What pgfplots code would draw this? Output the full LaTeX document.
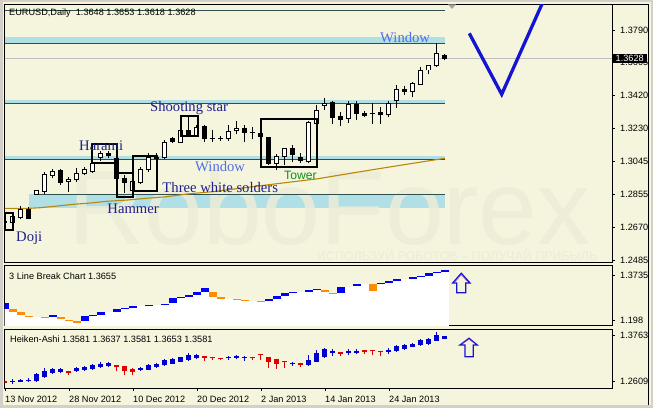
\documentclass[border=0pt]{standalone}
\usepackage{pgfplots}
\pgfplotsset{compat=1.18}
\usepackage{pgfplotstable}
\usepackage{fontspec}
\setmainfont{Liberation Sans}
\newfontfamily\tnr{Liberation Serif}
\definecolor{bg}{RGB}{245,245,222}
\definecolor{winframe}{RGB}{212,208,200}
\definecolor{band}{RGB}{176,224,230}
\definecolor{bandline}{RGB}{47,79,79}
\definecolor{maline}{RGB}{184,134,11}
\definecolor{navyt}{RGB}{30,30,140}
\definecolor{winblue}{RGB}{80,110,230}
\definecolor{towergreen}{RGB}{20,140,20}
\definecolor{vblue}{RGB}{20,20,210}
\definecolor{lbblue}{RGB}{0,0,255}
\definecolor{lborange}{RGB}{255,140,0}
\definecolor{hablue}{RGB}{0,0,205}
\definecolor{hared}{RGB}{220,0,0}
\definecolor{wm}{RGB}{236,236,215}
\definecolor{curline}{RGB}{192,192,192}

% main chart: white (bullish) and black (bearish) candles, k = bar index
\pgfplotstableread{
k o h l c
1 1.2695 1.2746 1.2684 1.2729
2 1.2727 1.2791 1.2716 1.2773
4 1.2859 1.2882 1.2857 1.2877
5 1.2873 1.2986 1.2859 1.2971
6 1.2963 1.3000 1.2949 1.2986
8 1.2929 1.2958 1.2873 1.2943
9 1.2939 1.3005 1.2929 1.2973
10 1.2973 1.3014 1.2967 1.3000
11 1.2986 1.3062 1.2980 1.3034
12 1.3068 1.3105 1.3047 1.3090
16 1.2882 1.2939 1.2873 1.2929
17 1.2924 1.3014 1.2916 1.3000
18 1.2996 1.3094 1.2986 1.3068
20 1.3068 1.3166 1.3056 1.3151
22 1.3153 1.3232 1.3147 1.3219
24 1.3190 1.3251 1.3189 1.3236
28 1.3176 1.3251 1.3162 1.3213
29 1.3217 1.3275 1.3198 1.3232
34 1.3034 1.3085 1.2996 1.3071
35 1.3071 1.3122 1.3024 1.3119
38 1.3043 1.3275 1.3034 1.3264
39 1.3261 1.3364 1.3257 1.3336
40 1.3359 1.3403 1.3336 1.3374
43 1.3289 1.3389 1.3264 1.3370
48 1.3308 1.3389 1.3295 1.3374
49 1.3389 1.3478 1.3346 1.3454
51 1.3440 1.3497 1.3408 1.3488
52 1.3482 1.3578 1.3478 1.3559
53 1.3563 1.3591 1.3539 1.3586
54 1.3586 1.3715 1.3582 1.3654
}\mainwhite
\pgfplotstableread{
k o h l c
0 1.2702 1.2740 1.2667 1.2700
3 1.2773 1.2784 1.2716 1.2722
7 1.2992 1.3000 1.2911 1.2926
13 1.3090 1.3103 1.3062 1.3079
14 1.3062 1.3071 1.2939 1.2949
15 1.2949 1.2967 1.2867 1.2924
19 1.3068 1.3090 1.3056 1.3060
21 1.3176 1.3185 1.3147 1.3156
23 1.3219 1.3302 1.3185 1.3189
25 1.3241 1.3251 1.3156 1.3176
26 1.3177 1.3223 1.3156 1.3175
27 1.3177 1.3189 1.3162 1.3175
30 1.3232 1.3251 1.3156 1.3210
31 1.3211 1.3241 1.3170 1.3209
32 1.3204 1.3213 1.3181 1.3185
33 1.3181 1.3185 1.3024 1.3034
36 1.3119 1.3138 1.3043 1.3081
37 1.3068 1.3094 1.3034 1.3052
41 1.3378 1.3389 1.3255 1.3295
42 1.3298 1.3326 1.3247 1.3283
44 1.3370 1.3389 1.3279 1.3317
45 1.3317 1.3332 1.3295 1.3302
46 1.3319 1.3374 1.3257 1.3316
47 1.3321 1.3355 1.3257 1.3308
50 1.3455 1.3472 1.3421 1.3440
55 1.3648 1.3653 1.3618 1.3628
}\mainblack

% 3 Line Break: level of the white area, rising and falling boxes
\pgfplotstableread{
k v
0 1.2422
1 1.2305
2 1.2162
3 1.2110
4 1.2110
5 1.2071
6 1.2110
7 1.2006
8 1.1941
9 1.1876
10 1.1941
11 1.2136
12 1.2188
13 1.2292
14 1.2305
15 1.2409
16 1.2461
17 1.2526
18 1.2539
19 1.2578
20 1.2591
21 1.2630
22 1.2838
23 1.2890
24 1.2968
25 1.3072
26 1.2890
27 1.2812
28 1.2812
29 1.2773
30 1.2734
31 1.2734
32 1.2695
33 1.2734
34 1.2812
35 1.2929
36 1.3033
37 1.3072
38 1.3085
39 1.3150
40 1.3059
41 1.2994
42 1.3046
43 1.3254
44 1.3293
45 1.3384
46 1.3124
47 1.3384
48 1.3436
49 1.3514
50 1.3579
51 1.3592
52 1.3670
53 1.3709
54 1.3800
55 1.3852
}\lbwhite
\pgfplotstableread{
k lo hi
0 1.2422 1.2656
6 1.2110 1.2175
10 1.1941 1.2136
11 1.2136 1.2175
12 1.2188 1.2292
14 1.2305 1.2409
15 1.2409 1.2448
16 1.2461 1.2526
18 1.2539 1.2578
20 1.2591 1.2617
21 1.2630 1.2838
22 1.2838 1.2890
23 1.2890 1.2968
24 1.2968 1.3072
25 1.3072 1.3228
33 1.2734 1.2799
34 1.2812 1.2916
35 1.2929 1.3033
36 1.3033 1.3072
38 1.3085 1.3150
39 1.3150 1.3189
42 1.3046 1.3254
44 1.3293 1.3384
47 1.3384 1.3423
48 1.3436 1.3501
49 1.3514 1.3579
51 1.3592 1.3670
52 1.3670 1.3709
53 1.3709 1.3800
54 1.3800 1.3852
55 1.3852 1.3917
}\lbup
\pgfplotstableread{
k lo hi
1 1.2305 1.2409
2 1.2162 1.2305
3 1.2110 1.2149
5 1.2071 1.2110
7 1.2006 1.2097
8 1.1941 1.1980
9 1.1876 1.1941
26 1.2890 1.3072
27 1.2812 1.2890
29 1.2773 1.2812
30 1.2734 1.2773
32 1.2695 1.2734
40 1.3059 1.3150
41 1.2994 1.3033
46 1.3124 1.3384
}\lbdown

% Heiken-Ashi
\pgfplotstableread{
k o h l c
1 1.2584 1.2652 1.2541 1.2609
2 1.2592 1.2660 1.2575 1.2635
3 1.2609 1.2677 1.2575 1.2635
4 1.2609 1.2804 1.2592 1.2779
5 1.2711 1.2932 1.2694 1.2864
6 1.2830 1.2949 1.2779 1.2915
7 1.2847 1.2932 1.2804 1.2898
9 1.2881 1.2966 1.2847 1.2923
10 1.2906 1.2983 1.2864 1.2949
11 1.2923 1.3034 1.2898 1.3008
12 1.2974 1.3085 1.2932 1.3042
13 1.3000 1.3102 1.2966 1.3068
17 1.2906 1.2966 1.2864 1.2932
18 1.2906 1.3042 1.2881 1.3017
19 1.2966 1.3076 1.2932 1.3042
20 1.3017 1.3161 1.2991 1.3127
21 1.3059 1.3203 1.3034 1.3169
22 1.3102 1.3229 1.3085 1.3203
23 1.3153 1.3322 1.3127 1.3271
24 1.3195 1.3305 1.3169 1.3254
28 1.3195 1.3254 1.3153 1.3212
29 1.3203 1.3271 1.3161 1.3246
30 1.3212 1.3254 1.3127 1.3220
36 1.3051 1.3102 1.3000 1.3068
38 1.3034 1.3271 1.3000 1.3144
39 1.3102 1.3399 1.3085 1.3322
40 1.3220 1.3441 1.3203 1.3424
41 1.3322 1.3424 1.3254 1.3356
43 1.3331 1.3424 1.3271 1.3356
44 1.3331 1.3424 1.3288 1.3356
48 1.3356 1.3441 1.3288 1.3390
49 1.3390 1.3526 1.3356 1.3492
50 1.3424 1.3543 1.3399 1.3526
51 1.3492 1.3569 1.3467 1.3543
52 1.3526 1.3679 1.3510 1.3653
53 1.3560 1.3713 1.3526 1.3679
54 1.3645 1.3849 1.3628 1.3764
55 1.3696 1.3755 1.3670 1.3755
}\haup
\pgfplotstableread{
k o h l c
0 1.2609 1.2609 1.2575 1.2575
8 1.2847 1.2864 1.2762 1.2830
14 1.3017 1.3017 1.2864 1.2966
15 1.2983 1.3000 1.2762 1.2881
16 1.2915 1.2932 1.2762 1.2847
25 1.3229 1.3246 1.3127 1.3212
26 1.3212 1.3212 1.3144 1.3195
27 1.3195 1.3195 1.3144 1.3178
31 1.3212 1.3212 1.3136 1.3203
32 1.3288 1.3288 1.3144 1.3280
33 1.3212 1.3212 1.2949 1.3102
34 1.3153 1.3153 1.2923 1.3042
35 1.3102 1.3102 1.2949 1.3093
37 1.3059 1.3059 1.2966 1.3034
42 1.3339 1.3339 1.3254 1.3314
45 1.3382 1.3382 1.3288 1.3356
46 1.3399 1.3399 1.3271 1.3390
47 1.3373 1.3373 1.3254 1.3365
}\hadown

\pgfplotsset{
  mt/.style={
    x=8bp, xmin=-0.06, xmax=75.875,
    anchor=north west,
    axis line style={black, line width=0.9bp},
    tick align=outside, major tick length=3bp,
    tick style={black, line width=0.7bp},
    ytick pos=right, yticklabel pos=right,
    yticklabel style={font=\fontsize{9.2}{10}\selectfont, anchor=west, inner sep=0pt, xshift=5bp},
    xtick=\empty,
    clip=true,
  },
  bar/.style 2 args={draw=none, mark=none, forget plot,
    error bars/y dir=plus, error bars/y explicit, error bars/error mark=none,
    error bars/error bar style={draw=#1, line width=#2, solid}},
}

\begin{document}
\begin{tikzpicture}
\useasboundingbox (0,0) rectangle (653bp,408bp);
\fill[winframe] (0,0) rectangle (653bp,408bp);
\fill[bg] (2.5bp,2.5bp) rectangle (650.5bp,405.5bp);
\draw[black, line width=0.8bp] (4.2bp,403.8bp) -- (648.8bp,403.8bp) -- (648.8bp,3.2bp);

% ---------------- main chart ----------------
\begin{axis}[mt, at={(4.5bp,403.5bp)}, y=1762.4bp, ymin=1.24736, ymax=1.39347,
  ytick={1.2485,1.2670,1.2855,1.3045,1.3230,1.3420,1.3605,1.3790},
  yticklabels={1.2485,1.2670,1.2855,1.3045,1.3230,1.3420,1.3605,1.3790}]
% bands (windows)
\fill[band] (axis cs:-0.06,1.37145) rectangle (axis cs:55,1.37486);
\fill[band] (axis cs:-0.06,1.33741) rectangle (axis cs:55,1.33928);
\fill[band] (axis cs:-0.06,1.30564) rectangle (axis cs:55,1.30751);
\fill[band] (axis cs:3,1.27772) rectangle (axis cs:55,1.28578);
% watermark
\node[anchor=base west, inner sep=0pt, text=wm, opacity=0.85, font=\fontsize{106}{110}\selectfont] at (axis cs:7.875,1.25701) {RoboForex};
\node[anchor=base west, inner sep=0pt, text=wm, font=\fontsize{12.5}{14}\selectfont] at (axis cs:39,1.24793) {ИСПОЛЬЗУЙ РОБОТОВ – ПОЛУЧАЙ ПРИБЫЛЬ};
% lines
\draw[bandline, line width=1bp] (axis cs:-0.06,1.3900) -- (axis cs:55,1.3900);
\draw[bandline, line width=1bp] (axis cs:-0.06,1.37145) -- (axis cs:55,1.37145);
\draw[bandline, line width=1bp] (axis cs:-0.06,1.33741) -- (axis cs:55,1.33741);
\draw[bandline, line width=1bp] (axis cs:-0.06,1.30564) -- (axis cs:55,1.30564);
\draw[bandline, line width=1bp] (axis cs:3.7,1.28578) -- (axis cs:55,1.28578);
\addplot[curline, line width=1bp, forget plot] coordinates {(-0.06,1.3628) (75.875,1.3628)};
% moving average
\addplot[maline, line width=1.1bp, forget plot] coordinates {
(0,1.2778) (3,1.2778) (4.5,1.2782) (6.46,1.2791) (8.54,1.2801) (10.63,1.2808)
(12.71,1.2818) (15.21,1.2825) (17.71,1.2835) (20.21,1.2844) (22.71,1.2859)
(26.04,1.2873) (34.38,1.2920) (38.96,1.2945) (41.88,1.2967) (46.46,1.3001)
(50.21,1.3028) (55,1.3062)};
% candles
\addplot[bar={black}{1bp}] table[x=k, y=l, y error plus expr=\thisrow{h}-\thisrow{l}] {\mainwhite};
\addplot[bar={black}{1bp}] table[x=k, y=l, y error plus expr=\thisrow{h}-\thisrow{l}] {\mainblack};
\addplot[bar={black}{5bp}] table[x=k, y expr=\thisrow{c}-0.00028, y error plus expr=\thisrow{o}-\thisrow{c}+0.00056] {\mainblack};
\addplot[bar={black}{5bp}] table[x=k, y expr=\thisrow{o}-0.00028, y error plus expr=\thisrow{c}-\thisrow{o}+0.00056] {\mainwhite};
\addplot[bar={white}{3bp}] table[x=k, y expr=\thisrow{o}+0.00028, y error plus expr=\thisrow{c}-\thisrow{o}-0.00056] {\mainwhite};
% V projection
\addplot[vblue, line width=3.3bp, forget plot] coordinates {(58.04,1.3771) (62.09,1.3425) (67.3,1.3955)};
\end{axis}

% ---------------- 3 Line Break ----------------
\begin{axis}[mt, at={(4.5bp,142.5bp)}, y=256.4bp, ymin=1.17655, ymax=1.41055,
  ytick={1.198,1.3735}, yticklabels={1.198,1.3735}]
\addplot[bar={white}{8.4bp}, error bars/y dir=minus] table[x=k, y=v, y error minus expr=\thisrow{v}-1.0] {\lbwhite};
\addplot[bar={lbblue}{8bp}] table[x=k, y=lo, y error plus expr=\thisrow{hi}-\thisrow{lo}] {\lbup};
\addplot[bar={lborange}{8bp}] table[x=k, y=lo, y error plus expr=\thisrow{hi}-\thisrow{lo}] {\lbdown};
\end{axis}

% ---------------- Heiken-Ashi ----------------
\begin{axis}[mt, at={(4.5bp,79bp)}, y=392.6bp, ymin=1.24307, ymax=1.39336,
  ytick={1.2609,1.3763}, yticklabels={1.2609,1.3763},
  xtick={0,8,16,24,32,40,48}, xtick pos=left,
  xticklabels={13 Nov 2012,28 Nov 2012,10 Dec 2012,20 Dec 2012,2 Jan 2013,14 Jan 2013,24 Jan 2013},
  xticklabel style={font=\fontsize{9.2}{10}\selectfont, anchor=north west, inner sep=0pt, yshift=-5bp}]
\addplot[bar={hablue}{1bp}] table[x=k, y=l, y error plus expr=\thisrow{h}-\thisrow{l}] {\haup};
\addplot[bar={hared}{1bp}] table[x=k, y=l, y error plus expr=\thisrow{h}-\thisrow{l}] {\hadown};
\addplot[bar={hablue}{5bp}] table[x=k, y expr=\thisrow{o}-0.00076, y error plus expr=\thisrow{c}-\thisrow{o}+0.00152] {\haup};
\addplot[bar={hared}{5bp}] table[x=k, y expr=\thisrow{c}-0.00076, y error plus expr=\thisrow{o}-\thisrow{c}+0.00152] {\hadown};
\end{axis}

% ---------------- annotations ----------------
\begin{scope}[x=1bp,y=1bp]
\fill[gray!70] (448,403.5) -- (456,403.5) -- (452,399) -- cycle;
\node[anchor=west, fill=black, text=white, inner xsep=3bp, inner ysep=1.2bp, font=\fontsize{9.2}{10}\selectfont] at (612.5,349.3) {1.3628};
% pattern boxes
\begin{scope}[black, line width=2bp]
\draw (5,194.7) rectangle (13.3,178);
\draw (92.3,263.7) rectangle (117.3,244.7);
\draw (116.7,234.7) rectangle (133.3,210.7);
\draw (133.3,252.3) rectangle (157.3,217);
\draw (181,292) rectangle (197.7,272);
\draw (260.7,289) rectangle (317.3,241.3);
\end{scope}
\begin{scope}[every node/.style={anchor=base west, inner sep=0pt, font=\tnr\fontsize{14.7}{16}\selectfont}]
\node[text=winblue] at (380,365.5) {Window};
\node[text=navyt] at (150,297) {Shooting star};
\node[text=navyt] at (79,258) {Harami};
\node[text=winblue] at (195,236.5) {Window};
\node[text=navyt] at (162.3,216) {Three white solders};
\node[text=navyt] at (107.3,195) {Hammer};
\node[text=navyt] at (16,167) {Doji};
\end{scope}
\node[anchor=base west, inner sep=0pt, text=towergreen, font=\fontsize{12.2}{14}\selectfont] at (284,229) {Tower};
% panel captions
\node[anchor=base west, inner sep=0pt, font=\fontsize{9.2}{11}\selectfont] at (9,392) {EURUSD,Daily~~1.3648 1.3653 1.3618 1.3628};
\node[anchor=base west, inner sep=0pt, font=\fontsize{9.2}{11}\selectfont] at (9,128.5) {3 Line Break Chart 1.3655};
\node[anchor=base west, inner sep=0pt, font=\fontsize{9.2}{11}\selectfont] at (10,66) {Heiken-Ashi 1.3581 1.3637 1.3581 1.3653 1.3581};
% signal arrows
\draw[vblue, line width=1.3bp, line join=miter] (452.7,125) -- (461.3,134.7) -- (470,125) -- (465.7,125) -- (465.7,115.3) -- (456.7,115.3) -- (456.7,125) -- cycle;
\draw[violet!70, line width=0.5bp] (455,126.2) -- (461.3,133.2) -- (467.6,126.2);
\draw[vblue, line width=1.3bp, line join=miter] (460,63) -- (469,69.7) -- (477.3,63) -- (473.3,63) -- (473.3,51.3) -- (465,51.3) -- (465,63) -- cycle;
\draw[violet!70, line width=0.5bp] (462.5,64.2) -- (469,68.8) -- (475,64.2);
\end{scope}
\end{tikzpicture}
\end{document}
